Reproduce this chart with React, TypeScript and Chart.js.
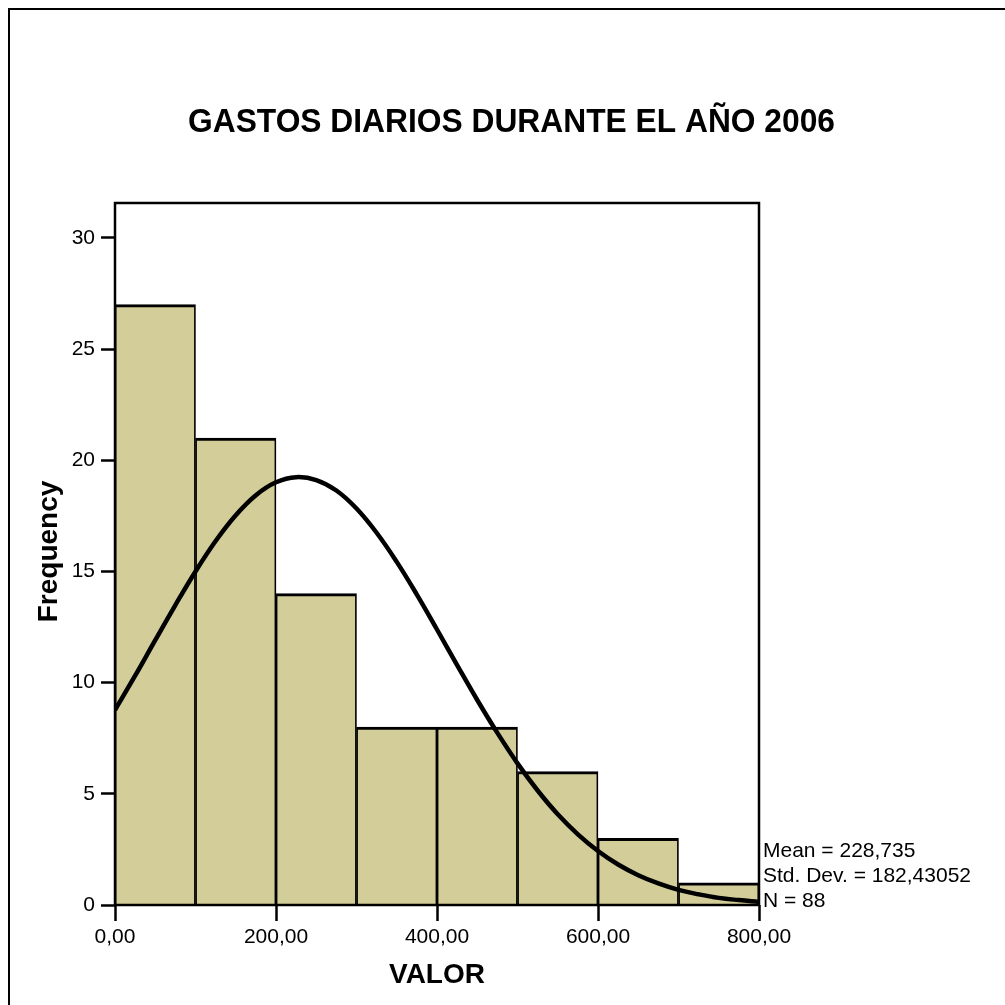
import React, { useEffect, useRef } from "react";
import { Chart, registerables } from "chart.js";

Chart.register(...registerables);

const binCenters = [50, 150, 250, 350, 450, 550, 650, 750];
const binCounts = [27, 21, 14, 8, 8, 6, 3, 1];

const curveX = [
  0, 25, 50, 75, 100, 125, 150, 175, 200, 225, 250, 275, 300, 325, 350, 375, 400,
  425, 450, 475, 500, 525, 550, 575, 600, 625, 650, 675, 700, 725, 750, 775, 800,
];
const curveY = [
  8.77, 10.31, 11.91, 13.49, 15.0, 16.37, 17.53, 18.43, 19.01, 19.24, 19.11, 18.64, 17.83, 16.74, 15.43, 13.96, 12.39,
  10.79, 9.22, 7.74, 6.37, 5.15, 4.08, 3.18, 2.43, 1.82, 1.34, 0.97, 0.68, 0.48, 0.32, 0.22, 0.14,
];

const xTicks = [0, 200, 400, 600, 800];
const yTicks = [0, 5, 10, 15, 20, 25, 30];

const titleText = "GASTOS DIARIOS DURANTE EL AÑO 2006";
const xTitle = "VALOR";
const yTitle = "Frequency";
const statsLines = ["Mean = 228,735", "Std. Dev. = 182,43052", "N = 88"];

const FONT = "'Liberation Sans', Arial, sans-serif";

const textPlugin = {
  id: "textPlugin",
  afterDraw(chart: any) {
    const ctx = chart.ctx;
    const ca = chart.chartArea;
    ctx.save();
    // outer border
    ctx.strokeStyle = "#000";
    ctx.lineWidth = 2;
    ctx.beginPath();
    ctx.moveTo(9, 1010);
    ctx.lineTo(9, 9);
    ctx.lineTo(1010, 9);
    ctx.stroke();
    // plot frame
    ctx.lineWidth = 2.5;
    ctx.strokeRect(ca.left, ca.top, ca.right - ca.left, ca.bottom - ca.top);

    ctx.fillStyle = "#000";
    // title
    ctx.font = `bold 33px ${FONT}`;
    ctx.textBaseline = "alphabetic";
    ctx.textAlign = "center";
    const w = ctx.measureText(titleText).width;
    const sx = 647 / w;
    ctx.save();
    ctx.translate(511.5, 132);
    ctx.scale(sx, 1);
    ctx.fillText(titleText, 0, 0);
    ctx.restore();

    // x title
    ctx.font = `bold 28px ${FONT}`;
    ctx.fillText(xTitle, (ca.left + ca.right) / 2, 983);

    // y title
    ctx.save();
    ctx.translate(57, 551.5);
    ctx.rotate(-Math.PI / 2);
    ctx.fillText(yTitle, 0, 0);
    ctx.restore();

    // stats
    ctx.font = `21px ${FONT}`;
    ctx.textAlign = "left";
    const baselines = [857, 882, 907];
    statsLines.forEach((s, i) => ctx.fillText(s, ca.right + 4, baselines[i]));
    ctx.restore();
  },
};

export default function App() {
  const ref = useRef<HTMLCanvasElement>(null);
  useEffect(() => {
    if (!ref.current) return;
    const chart = new Chart(ref.current, {
      type: "bar",
      data: {
        datasets: [
          {
            type: "line",
            data: curveX.map((x, i) => ({ x, y: curveY[i] })),
            borderColor: "#000",
            borderWidth: 4.5,
            pointRadius: 0,
            tension: 0.4,
            fill: false,
            order: 1,
          } as any,
          {
            type: "bar",
            data: binCenters.map((x, i) => ({ x, y: binCounts[i] })),
            backgroundColor: "rgb(211,206,153)",
            borderColor: "#000",
            borderWidth: { top: 3, left: 1.75, right: 1.75, bottom: 0 },
            borderSkipped: false,
            barPercentage: 1,
            categoryPercentage: 1,
            order: 2,
          } as any,
        ],
      },
      plugins: [textPlugin],
      options: {
        animation: false,
        responsive: false,
        devicePixelRatio: 1,
        layout: { padding: { left: 0, right: 246, top: 203, bottom: 40 } },
        plugins: { legend: { display: false }, tooltip: { enabled: false }, title: { display: false } },
        scales: {
          x: {
            type: "linear",
            min: 0,
            max: 800,
            offset: false,
            afterBuildTicks: (s: any) => {
              s.ticks = xTicks.map((v) => ({ value: v }));
            },
            afterFit: (s: any) => {
              s.height = 60;
            },
            grid: {
              display: true,
              offset: false,
              drawOnChartArea: false,
              drawTicks: true,
              tickLength: 16,
              tickWidth: 2.5,
              tickColor: "#000",
            },
            border: { display: false },
            ticks: {
              color: "#000",
              font: { family: FONT, size: 21 },
              padding: 4,
              maxRotation: 0,
              autoSkip: false,
              callback: (v: any) => Number(v).toFixed(2).replace(".", ","),
            },
          },
          y: {
            type: "linear",
            min: 0,
            max: 31.57,
            afterBuildTicks: (s: any) => {
              s.ticks = yTicks.map((v) => ({ value: v }));
            },
            afterFit: (s: any) => {
              s.width = 115;
            },
            grid: {
              display: true,
              offset: false,
              drawOnChartArea: false,
              drawTicks: true,
              tickLength: 14,
              tickWidth: 2.5,
              tickColor: "#000",
            },
            border: { display: false },
            ticks: {
              color: "#000",
              font: { family: FONT, size: 21 },
              padding: 6,
              autoSkip: false,
              callback: (v: any) => String(v),
            },
          },
        },
      } as any,
    });
    return () => chart.destroy();
  }, []);
  return (
    <div style={{ position: "fixed", left: 0, top: 0, width: 1005, height: 1005, background: "#fff" }}>
      <canvas ref={ref} width={1005} height={1005} style={{ display: "block" }} />
    </div>
  );
}
